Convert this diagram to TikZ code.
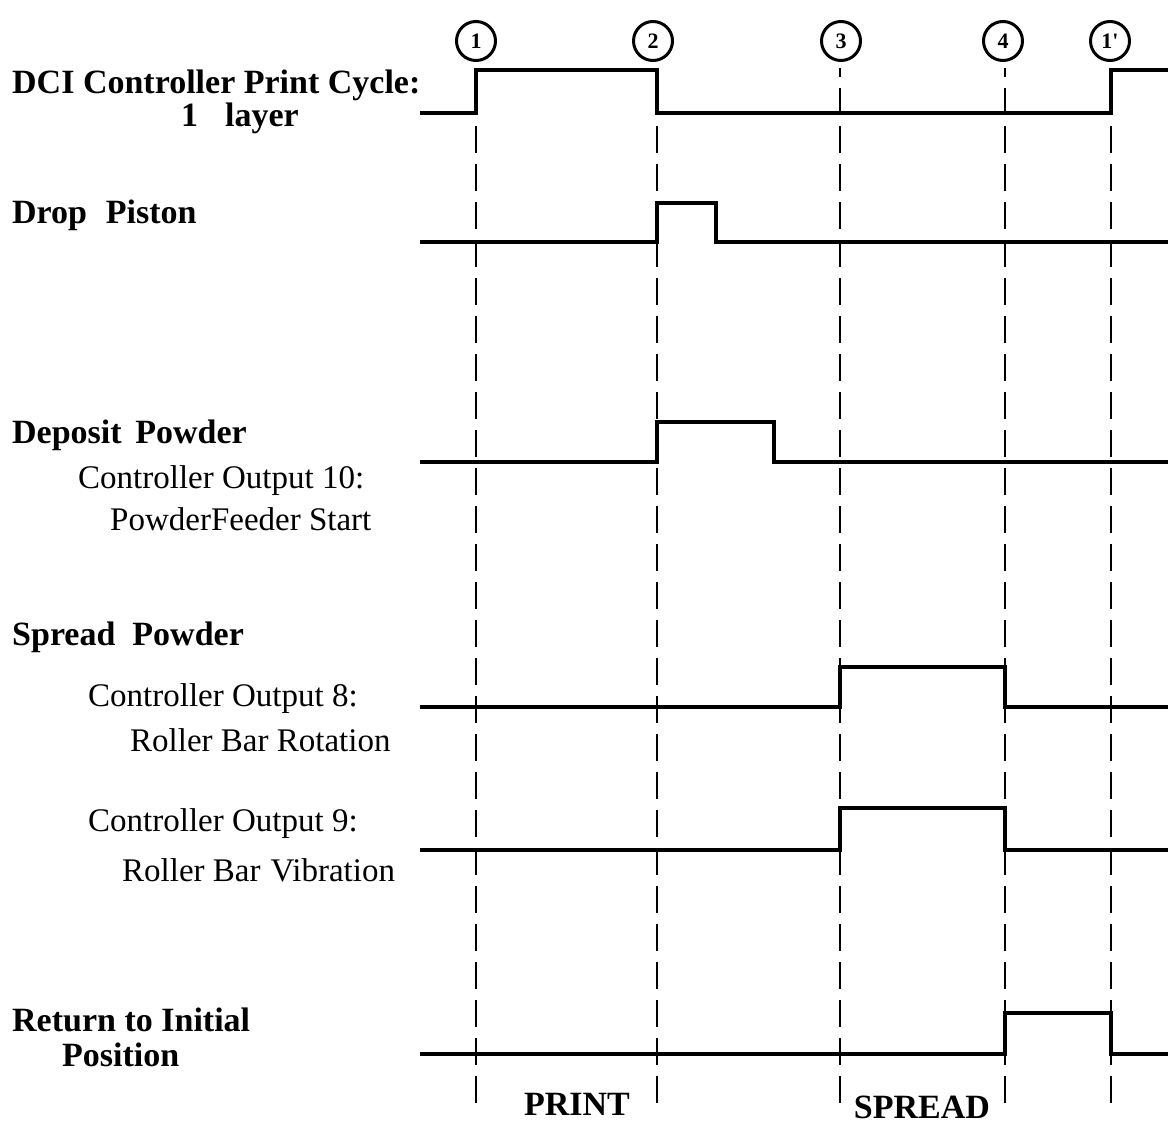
\documentclass[tikz,border=0pt]{standalone}
\usepackage{fontspec}
\setmainfont{Liberation Serif}
\begin{document}
\begin{tikzpicture}[x=1pt,y=-1pt,
 sig/.style={line width=4.5pt, line join=miter},
 gridline/.style={line width=2.8pt, dash pattern=on 27pt off 11pt},
 num/.style={circle, draw, line width=3pt, minimum size=39pt, inner sep=0pt, font=\bfseries\fontsize{22}{22}\selectfont},
 bl/.style={anchor=base west, font=\bfseries\fontsize{34}{34}\selectfont, inner sep=0pt},
 rl/.style={anchor=base west, font=\fontsize{33}{33}\selectfont, inner sep=0pt}]
\useasboundingbox (0,0) rectangle (1168,1124);
% event markers
\node[num] (c1) at (476,41) {1};
\node[num] (c2) at (653,41) {2};
\node[num] (c3) at (841,41) {3};
\node[num] (c4) at (1003,41) {4};
\node[num] (c5) at (1110,41) {1\textquotesingle};
% dashed time lines (drawn upwards from their lower ends)
\draw[gridline] (476,1103) -- (476,113);
\draw[gridline] (657,1103) -- (657,113);
\draw[gridline] (840,1103) -- (840,68);
\draw[gridline] (1005,1103) -- (1005,68);
\draw[gridline] (1111,1103) -- (1111,113);
% signals
\draw[sig] (420,113) -- (476,113) -- (476,70) -- (657,70) -- (657,113) -- (1111,113) -- (1111,70) -- (1168,70);
\draw[sig] (420,242) -- (657,242) -- (657,203) -- (716,203) -- (716,242) -- (1168,242);
\draw[sig] (420,462) -- (657,462) -- (657,422) -- (774,422) -- (774,462) -- (1168,462);
\draw[sig] (420,707) -- (840,707) -- (840,667) -- (1005,667) -- (1005,707) -- (1168,707);
\draw[sig] (420,850) -- (840,850) -- (840,808) -- (1005,808) -- (1005,850) -- (1168,850);
\draw[sig] (420,1054) -- (1005,1054) -- (1005,1013) -- (1111,1013) -- (1111,1054) -- (1168,1054);
% labels
\node[bl] (t1) at (12,93) {DCI Controller Print Cycle:};
\node[bl] (t1b) at (181,126) {1\hspace{27pt}layer};
\node[bl] (t2) at (12,223) {Drop\hspace{0.55em}Piston};
\node[bl] (t3) at (12,443) {Deposit\hspace{0.4em}Powder};
\node[rl] (t3a) at (78,488) {Controller Output 10:};
\node[rl] (t3b) at (110,530) {PowderFeeder Start};
\node[bl] (t4) at (12,645) {Spread\hspace{0.5em}Powder};
\node[rl] (t4a) at (88,706) {Controller Output 8:};
\node[rl] (t4b) at (130,751) {Roller Bar Rotation};
\node[rl] (t5a) at (88,831) {Controller Output 9:};
\node[rl] (t5b) at (122,881) {Roller Bar\hspace{0.3em}Vibration};
\node[bl] (t6) at (12,1031) {Return to Initial};
\node[bl] (t6b) at (62,1066) {Position};
\node[bl, anchor=base] (p1) at (577,1115) {PRINT};
\node[bl, anchor=base] (p2) at (922,1118) {SPREAD};
\end{tikzpicture}
\end{document}
